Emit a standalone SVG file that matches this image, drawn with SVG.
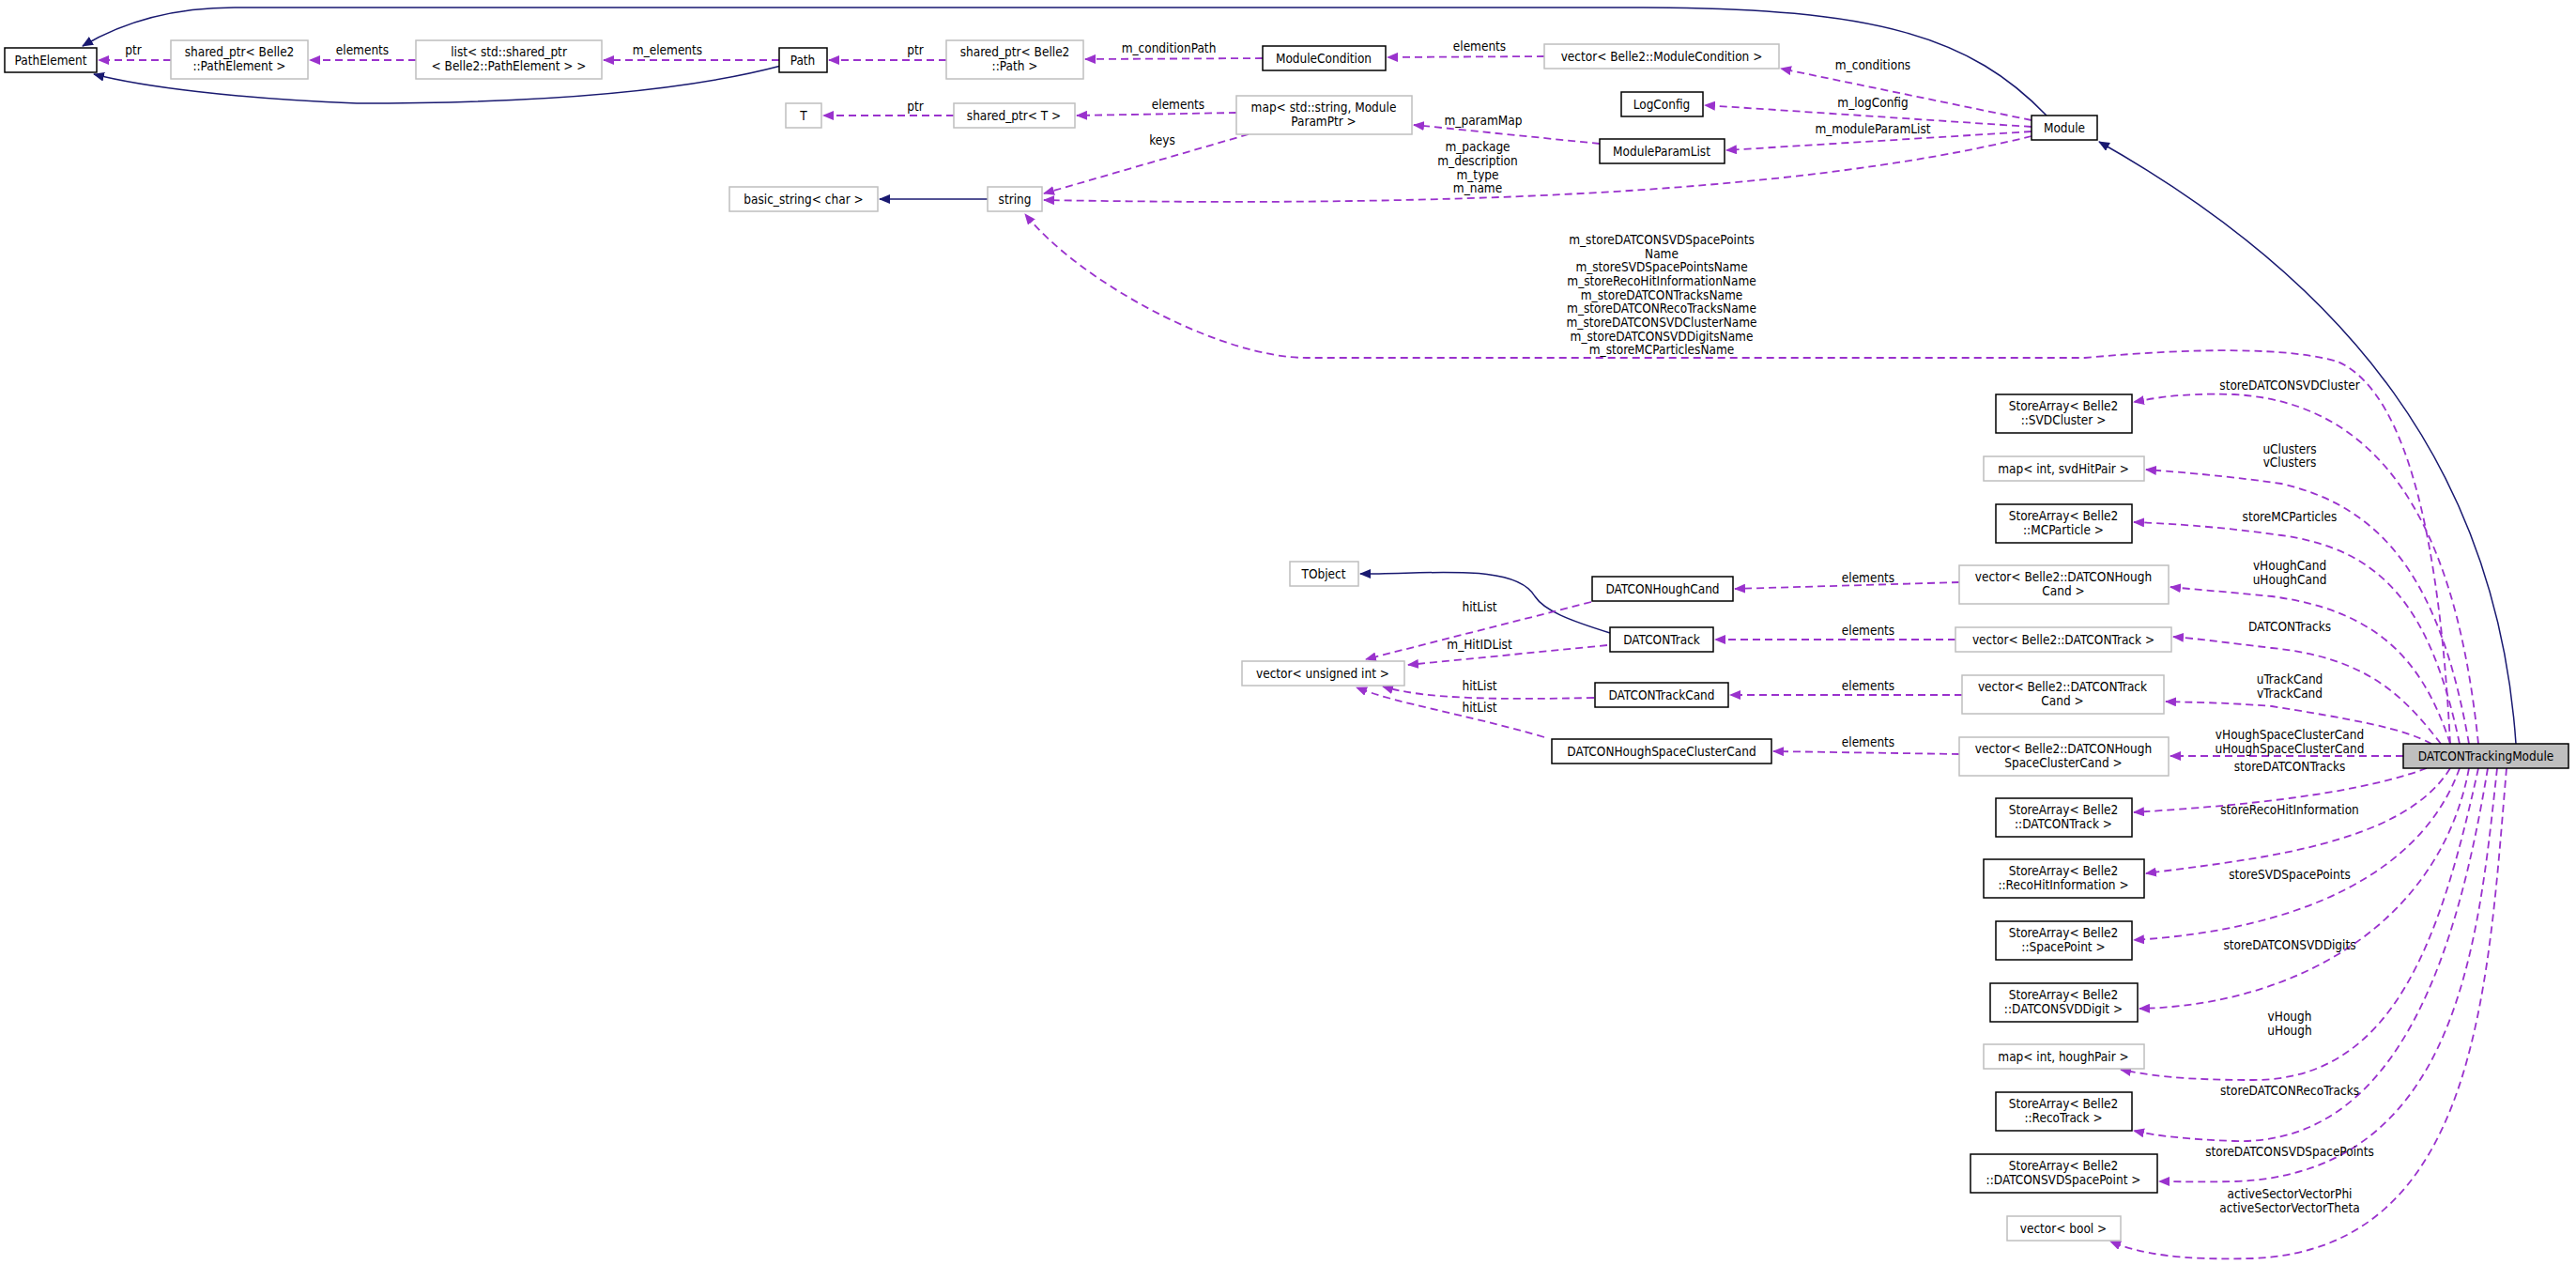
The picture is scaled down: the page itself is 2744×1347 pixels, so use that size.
<svg xmlns="http://www.w3.org/2000/svg" width="2744" height="1347" viewBox="0 0 2744 1347">
<style>
text{font-family:"DejaVu Sans Condensed","DejaVu Sans",sans-serif;font-stretch:condensed;font-size:13.5px;fill:#000}
.n rect{fill:#fff;stroke:#000;stroke-width:1.5}
.g rect{fill:#fff;stroke:#bfbfbf;stroke-width:1.5}
.n text,.g text,.l{text-anchor:middle}
.d{fill:none;stroke:#9a32cd;stroke-width:1.8;stroke-dasharray:8,5;marker-end:url(#pa)}
.i{fill:none;stroke:#191970;stroke-width:1.5;marker-end:url(#ia)}
</style>
<defs>
<marker id="pa" viewBox="0 0 12 10" refX="11" refY="5" markerWidth="12" markerHeight="10" markerUnits="userSpaceOnUse" orient="auto"><path d="M0,0L12,5L0,10z" fill="#9a32cd"/></marker>
<marker id="ia" viewBox="0 0 12 10" refX="11" refY="5" markerWidth="12" markerHeight="10" markerUnits="userSpaceOnUse" orient="auto"><path d="M0,0L12,5L0,10z" fill="#191970"/></marker>
</defs>
<rect width="2744" height="1347" fill="#fff"/>
<g id="edges">
<path class="i" d="M2180,123 C2100,40 2000,8 1750,8 L250,8 C170,8 120,30 88,49"/>
<path class="i" d="M832,70 C700,105 500,110 380,110 C250,105 150,92 100,79"/>
<path class="d" d="M182,64 L105,64"/>
<path class="d" d="M443,64 L330,64"/>
<path class="d" d="M830,64 L643,64"/>
<path class="d" d="M1008,64 L883,64"/>
<path class="d" d="M1345,62 L1156,63"/>
<path class="d" d="M1645,60 L1478,61"/>
<path class="d" d="M2164,128 L1897,73"/>
<path class="d" d="M1016,123 L877,123"/>
<path class="d" d="M1317,120 L1147,123"/>
<path class="d" d="M2164,135 L1816,112"/>
<path class="d" d="M2164,140 L1839,160"/>
<path class="d" d="M1704,153 L1506,133"/>
<path class="d" d="M1330,143 L1112,206"/>
<path class="d" d="M2164,145 C1900,210 1500,220 1112,213"/>
<path class="i" d="M1052,212 L937,212"/>
<path class="i" d="M2680,792 C2660,500 2500,300 2236,151"/>
<path class="d" d="M2610,792 C2600,600 2570,420 2490,385 C2440,370 2340,370 2221,381 L1392,381 C1300,381 1150,300 1092,228"/>
<path class="d" d="M2640,792 C2620,600 2560,430 2380,420 C2320,418 2290,425 2273,428"/>
<path class="d" d="M2630,792 C2600,620 2540,540 2430,515 C2360,505 2310,502 2286,500"/>
<path class="d" d="M2620,792 C2590,650 2540,585 2430,570 C2360,560 2300,557 2273,556"/>
<path class="d" d="M2610,792 C2580,700 2530,650 2420,635 C2370,630 2330,627 2312,625"/>
<path class="d" d="M2600,792 C2560,740 2520,700 2420,690 C2370,684 2340,680 2315,678"/>
<path class="d" d="M2590,792 C2560,775 2500,765 2420,752 C2370,748 2340,748 2307,747"/>
<path class="d" d="M2560,805 L2312,805"/>
<path class="d" d="M2585,818 C2500,850 2350,860 2273,865"/>
<path class="d" d="M2610,818 C2560,900 2400,915 2286,930"/>
<path class="d" d="M2620,818 C2580,930 2450,990 2273,1001"/>
<path class="d" d="M2630,818 C2600,980 2450,1070 2279,1074"/>
<path class="d" d="M2640,818 C2600,1000 2550,1150 2400,1150 C2320,1150 2290,1145 2259,1139"/>
<path class="d" d="M2650,818 C2620,1000 2560,1220 2380,1215 C2330,1213 2300,1210 2273,1204"/>
<path class="d" d="M2660,818 C2640,1000 2620,1250 2380,1258 C2340,1259 2320,1258 2300,1258"/>
<path class="d" d="M2670,818 C2650,1050 2640,1330 2400,1340 C2320,1342 2280,1335 2248,1322"/>
<path class="d" d="M2087,620 L1848,627"/>
<path class="d" d="M2083,681 L1827,681"/>
<path class="d" d="M2090,740 L1843,740"/>
<path class="d" d="M2087,803 L1889,800"/>
<path class="i" d="M1715,674 C1670,660 1645,650 1635,635 C1615,600 1530,611 1449,611"/>
<path class="d" d="M1695,641 L1455,702"/>
<path class="d" d="M1712,687 L1500,708"/>
<path class="d" d="M1698,743 C1600,745 1520,745 1473,731"/>
<path class="d" d="M1645,785 C1560,760 1490,750 1445,732"/>
</g>
<g id="edge-labels">
<text class="l" x="142" y="58">ptr</text>
<text class="l" x="386" y="58">elements</text>
<text class="l" x="711" y="58">m_elements</text>
<text class="l" x="975" y="58">ptr</text>
<text class="l" x="1245" y="56">m_conditionPath</text>
<text class="l" x="1576" y="54">elements</text>
<text class="l" x="1995" y="74">m_conditions</text>
<text class="l" x="975" y="118">ptr</text>
<text class="l" x="1255" y="116">elements</text>
<text class="l" x="1995" y="114">m_logConfig</text>
<text class="l" x="1995" y="142">m_moduleParamList</text>
<text class="l" x="1580" y="133">m_paramMap</text>
<text class="l" x="1238" y="154">keys</text>
<text class="l" x="1574" y="161">m_package</text>
<text class="l" x="1574" y="176">m_description</text>
<text class="l" x="1574" y="191">m_type</text>
<text class="l" x="1574" y="205">m_name</text>
<text class="l" x="1770" y="260">m_storeDATCONSVDSpacePoints</text>
<text class="l" x="1770" y="275">Name</text>
<text class="l" x="1770" y="289">m_storeSVDSpacePointsName</text>
<text class="l" x="1770" y="304">m_storeRecoHitInformationName</text>
<text class="l" x="1770" y="319">m_storeDATCONTracksName</text>
<text class="l" x="1770" y="333">m_storeDATCONRecoTracksName</text>
<text class="l" x="1770" y="348">m_storeDATCONSVDClusterName</text>
<text class="l" x="1770" y="363">m_storeDATCONSVDDigitsName</text>
<text class="l" x="1770" y="377">m_storeMCParticlesName</text>
<text class="l" x="2439" y="415">storeDATCONSVDCluster</text>
<text class="l" x="2439" y="483">uClusters</text>
<text class="l" x="2439" y="497">vClusters</text>
<text class="l" x="2439" y="555">storeMCParticles</text>
<text class="l" x="2439" y="607">vHoughCand</text>
<text class="l" x="2439" y="622">uHoughCand</text>
<text class="l" x="2439" y="672">DATCONTracks</text>
<text class="l" x="2439" y="728">uTrackCand</text>
<text class="l" x="2439" y="743">vTrackCand</text>
<text class="l" x="2439" y="787">vHoughSpaceClusterCand</text>
<text class="l" x="2439" y="802">uHoughSpaceClusterCand</text>
<text class="l" x="2439" y="821">storeDATCONTracks</text>
<text class="l" x="2439" y="867">storeRecoHitInformation</text>
<text class="l" x="2439" y="936">storeSVDSpacePoints</text>
<text class="l" x="2439" y="1011">storeDATCONSVDDigits</text>
<text class="l" x="2439" y="1087">vHough</text>
<text class="l" x="2439" y="1102">uHough</text>
<text class="l" x="2439" y="1166">storeDATCONRecoTracks</text>
<text class="l" x="2439" y="1231">storeDATCONSVDSpacePoints</text>
<text class="l" x="2439" y="1276">activeSectorVectorPhi</text>
<text class="l" x="2439" y="1291">activeSectorVectorTheta</text>
<text class="l" x="1990" y="620">elements</text>
<text class="l" x="1990" y="676">elements</text>
<text class="l" x="1990" y="735">elements</text>
<text class="l" x="1990" y="795">elements</text>
<text class="l" x="1576" y="651">hitList</text>
<text class="l" x="1576" y="691">m_HitIDList</text>
<text class="l" x="1576" y="735">hitList</text>
<text class="l" x="1576" y="758">hitList</text>
</g>
<g id="PathElement" class="n"><rect x="5" y="51" width="98" height="26"/><text x="54" y="69">PathElement</text></g>
<g id="sp_PathElement" class="g"><rect x="182" y="43" width="146" height="41"/><text x="255" y="60">shared_ptr&lt; Belle2</text><text x="255" y="75">::PathElement &gt;</text></g>
<g id="list_sp" class="g"><rect x="443" y="43" width="198" height="41"/><text x="542" y="60">list&lt; std::shared_ptr</text><text x="542" y="75">&lt; Belle2::PathElement &gt; &gt;</text></g>
<g id="Path" class="n"><rect x="830" y="51" width="51" height="26"/><text x="855" y="69">Path</text></g>
<g id="sp_Path" class="g"><rect x="1008" y="43" width="146" height="41"/><text x="1081" y="60">shared_ptr&lt; Belle2</text><text x="1081" y="75">::Path &gt;</text></g>
<g id="ModuleCondition" class="n"><rect x="1345" y="49" width="131" height="26"/><text x="1410" y="67">ModuleCondition</text></g>
<g id="vec_ModuleCondition" class="g"><rect x="1645" y="47" width="250" height="26"/><text x="1770" y="65">vector&lt; Belle2::ModuleCondition &gt;</text></g>
<g id="T" class="g"><rect x="837" y="110" width="38" height="26"/><text x="856" y="128">T</text></g>
<g id="sp_T" class="g"><rect x="1016" y="110" width="129" height="26"/><text x="1080" y="128">shared_ptr&lt; T &gt;</text></g>
<g id="map_param" class="g"><rect x="1317" y="102" width="187" height="41"/><text x="1410" y="119">map&lt; std::string, Module</text><text x="1410" y="134">ParamPtr &gt;</text></g>
<g id="LogConfig" class="n"><rect x="1727" y="98" width="87" height="26"/><text x="1770" y="116">LogConfig</text></g>
<g id="ModuleParamList" class="n"><rect x="1704" y="148" width="133" height="26"/><text x="1770" y="166">ModuleParamList</text></g>
<g id="Module" class="n"><rect x="2164" y="123" width="70" height="26"/><text x="2199" y="141">Module</text></g>
<g id="basic_string" class="g"><rect x="777" y="199" width="158" height="26"/><text x="856" y="217">basic_string&lt; char &gt;</text></g>
<g id="string" class="g"><rect x="1052" y="199" width="58" height="26"/><text x="1081" y="217">string</text></g>
<g id="sa_SVDCluster" class="n"><rect x="2126" y="420" width="145" height="41"/><text x="2198" y="437">StoreArray&lt; Belle2</text><text x="2198" y="452">::SVDCluster &gt;</text></g>
<g id="map_svdHitPair" class="g"><rect x="2113" y="486" width="171" height="26"/><text x="2198" y="504">map&lt; int, svdHitPair &gt;</text></g>
<g id="sa_MCParticle" class="n"><rect x="2126" y="537" width="145" height="41"/><text x="2198" y="554">StoreArray&lt; Belle2</text><text x="2198" y="569">::MCParticle &gt;</text></g>
<g id="TObject" class="g"><rect x="1374" y="598" width="73" height="26"/><text x="1410" y="616">TObject</text></g>
<g id="DATCONHoughCand" class="n"><rect x="1696" y="614" width="150" height="26"/><text x="1771" y="632">DATCONHoughCand</text></g>
<g id="vec_HoughCand" class="g"><rect x="2087" y="602" width="223" height="41"/><text x="2198" y="619">vector&lt; Belle2::DATCONHough</text><text x="2198" y="634">Cand &gt;</text></g>
<g id="DATCONTrack" class="n"><rect x="1715" y="668" width="110" height="26"/><text x="1770" y="686">DATCONTrack</text></g>
<g id="vec_DATCONTrack" class="g"><rect x="2083" y="668" width="230" height="26"/><text x="2198" y="686">vector&lt; Belle2::DATCONTrack &gt;</text></g>
<g id="vec_uint" class="g"><rect x="1323" y="704" width="173" height="26"/><text x="1409" y="722">vector&lt; unsigned int &gt;</text></g>
<g id="DATCONTrackCand" class="n"><rect x="1699" y="727" width="142" height="26"/><text x="1770" y="745">DATCONTrackCand</text></g>
<g id="vec_TrackCand" class="g"><rect x="2090" y="719" width="215" height="41"/><text x="2197" y="736">vector&lt; Belle2::DATCONTrack</text><text x="2197" y="751">Cand &gt;</text></g>
<g id="DATCONHSCC" class="n"><rect x="1653" y="787" width="234" height="26"/><text x="1770" y="805">DATCONHoughSpaceClusterCand</text></g>
<g id="vec_HSCC" class="g"><rect x="2087" y="785" width="223" height="41"/><text x="2198" y="802">vector&lt; Belle2::DATCONHough</text><text x="2198" y="817">SpaceClusterCand &gt;</text></g>
<g id="DATCONTrackingModule"><rect x="2560" y="792" width="176" height="26" fill="#bfbfbf" stroke="#000" stroke-width="1.5"/><text x="2648" y="810" text-anchor="middle">DATCONTrackingModule</text></g>
<g id="sa_DATCONTrack" class="n"><rect x="2126" y="850" width="145" height="41"/><text x="2198" y="867">StoreArray&lt; Belle2</text><text x="2198" y="882">::DATCONTrack &gt;</text></g>
<g id="sa_RecoHit" class="n"><rect x="2113" y="915" width="171" height="41"/><text x="2198" y="932">StoreArray&lt; Belle2</text><text x="2198" y="947">::RecoHitInformation &gt;</text></g>
<g id="sa_SpacePoint" class="n"><rect x="2126" y="981" width="145" height="41"/><text x="2198" y="998">StoreArray&lt; Belle2</text><text x="2198" y="1013">::SpacePoint &gt;</text></g>
<g id="sa_SVDDigit" class="n"><rect x="2120" y="1047" width="157" height="41"/><text x="2198" y="1064">StoreArray&lt; Belle2</text><text x="2198" y="1079">::DATCONSVDDigit &gt;</text></g>
<g id="map_houghPair" class="g"><rect x="2113" y="1112" width="171" height="26"/><text x="2198" y="1130">map&lt; int, houghPair &gt;</text></g>
<g id="sa_RecoTrack" class="n"><rect x="2126" y="1163" width="145" height="41"/><text x="2198" y="1180">StoreArray&lt; Belle2</text><text x="2198" y="1195">::RecoTrack &gt;</text></g>
<g id="sa_SVDSpacePoint" class="n"><rect x="2099" y="1229" width="199" height="41"/><text x="2198" y="1246">StoreArray&lt; Belle2</text><text x="2198" y="1261">::DATCONSVDSpacePoint &gt;</text></g>
<g id="vec_bool" class="g"><rect x="2138" y="1295" width="121" height="26"/><text x="2198" y="1313">vector&lt; bool &gt;</text></g>
</svg>
